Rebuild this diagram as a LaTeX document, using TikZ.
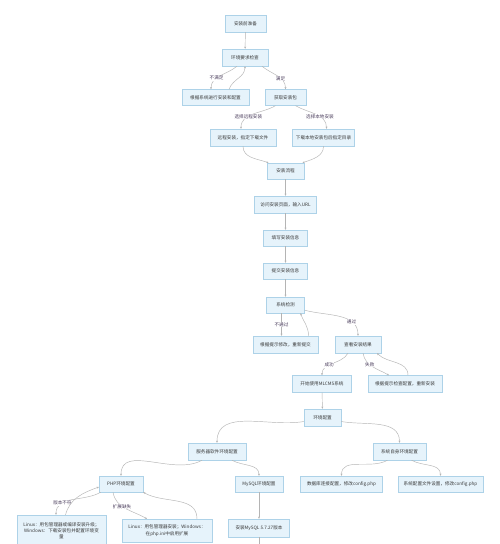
\documentclass[tikz,border=0pt]{standalone}
\usepackage{fontspec}
\setmainfont{Noto Sans CJK SC}
\usetikzlibrary{arrows.meta}
\definecolor{boxfill}{HTML}{E6F3FB}
\definecolor{boxline}{HTML}{ADD2E8}
\definecolor{txt}{HTML}{3A3A3A}
\definecolor{edge}{HTML}{B4B4B4}
\definecolor{labtxt}{HTML}{4A3D5C}
\begin{document}
\begin{tikzpicture}[x=1pt,y=1pt,
 box/.style={draw=boxline, fill=boxfill, line width=0.4pt, text=txt, font=\fontsize{4.6}{6.2}\selectfont, inner sep=1pt, align=center},
 conn/.style={draw=edge, line width=0.45pt, -{Stealth[length=2.2pt,width=1.9pt]}},
 lab/.style={fill=white, text=labtxt, font=\fontsize{4.6}{6}\selectfont, inner sep=0.6pt}]
\useasboundingbox (0,0) rectangle (500,-544);
\fill[white] (0,0) rectangle (500,-544);

\node[box, minimum width=41pt, minimum height=17pt] (a1) at (245.5,-23.5) {安装前准备};
\node[box, minimum width=46pt, minimum height=17pt] (a2) at (245,-57.5) {环境要求检查};
\node[box, minimum width=67pt, minimum height=16pt] (b1) at (215.5,-97.5) {根据系统进行安装和配置};
\node[box, minimum width=41pt, minimum height=16pt] (b2) at (285.5,-97.5) {获取安装包};
\node[box, minimum width=66pt, minimum height=17pt] (c1) at (243,-137.5) {远程安装，指定下载文件};
\node[box, minimum width=62pt, minimum height=17pt] (c2) at (323.5,-137.5) {下载本地安装包后指定目录};
\node[box, minimum width=37pt, minimum height=16pt] (d) at (285.5,-171) {安装流程};
\node[box, minimum width=62pt, minimum height=17pt] (e) at (285.5,-204.5) {访问安装页面，输入URL};
\node[box, minimum width=44pt, minimum height=16pt] (f) at (285.5,-238) {填写安装信息};
\node[box, minimum width=44pt, minimum height=16pt] (g) at (285.5,-271) {提交安装信息};
\node[box, minimum width=38pt, minimum height=16pt] (h) at (285.5,-305) {系统检测};
\node[box, minimum width=65pt, minimum height=17pt] (i1) at (285.5,-344.5) {根据提示修改，重新提交};
\node[box, minimum width=46pt, minimum height=17pt] (i2) at (358,-344.5) {查看安装结果};
\node[box, minimum width=59pt, minimum height=17pt] (j1) at (322,-384) {开始使用MLCMS系统};
\node[box, minimum width=74pt, minimum height=17pt] (j2) at (405,-384) {根据提示检查配置，重新安装};
\node[box, minimum width=37pt, minimum height=17pt] (k) at (322.5,-417.5) {环境配置};
\node[box, minimum width=58pt, minimum height=17pt] (l1) at (217,-451.5) {服务器软件环境配置};
\node[box, minimum width=53pt, minimum height=17pt] (l2) at (399.5,-451.5) {系统自身环境配置};
\node[box, minimum width=44pt, minimum height=16pt] (m1) at (121,-484) {PHP环境配置};
\node[box, minimum width=48pt, minimum height=16pt] (m2) at (259,-484) {MySQL环境配置};
\node[box, minimum width=82pt, minimum height=16pt] (m3) at (341.5,-484) {数据库连接配置，修改config.php};
\node[box, minimum width=85pt, minimum height=16pt] (m4) at (440.5,-484) {系统配置文件设置，修改config.php};
\node[box, minimum width=89pt, minimum height=31pt] (n1) at (61.5,-530.5) {Linux：用包管理器或编译安装升级；\\Windows：下载安装包并配置环境变\\量};
\node[box, minimum width=90pt, minimum height=23pt] (n2) at (167,-530.5) {Linux：用包管理器安装；Windows：\\在php.ini中启用扩展};
\node[box, minimum width=61pt, minimum height=18pt] (n3) at (259,-528) {安装MySQL 5.7.27版本};
\coordinate (n3end) at (259,-546);

\draw[conn] (a1) -- (a2);
\draw[conn] ([xshift=-8pt]a2.south) to[out=-140,in=90] node[lab, pos=0.62]{不满足} ([xshift=-4.5pt]b1.north);
\draw[conn] ([xshift=13.5pt]b1.north) to[out=70,in=-90] (a2.south);
\draw[conn] ([xshift=17pt]a2.south) to[out=-40,in=90] node[lab, pos=0.62]{满足} (b2.north);
\draw[conn] ([xshift=-10pt]b2.south) to[out=-150,in=90] node[lab, pos=0.62]{选择远程安装} ([xshift=-2pt]c1.north);
\draw[conn] ([xshift=10pt]b2.south) to[out=-30,in=90] node[lab, pos=0.62]{选择本地安装} ([xshift=3pt]c2.north);
\draw[conn] (c1.south) to[out=-90,in=160] ([xshift=-17pt]d.north);
\draw[conn] (c2.south) to[out=-90,in=20] ([xshift=17pt]d.north);
\draw[conn] (d) -- (e);
\draw[conn] (e) -- (f);
\draw[conn] (f) -- (g);
\draw[conn] (g) -- (h);
\draw[conn] ([xshift=-4pt]h.south) -- node[lab]{不通过} ([xshift=-4pt]i1.north);
\draw[conn] ([xshift=23pt]i1.north) to[out=90,in=-70] ([xshift=15pt]h.south);
\draw[conn] ([yshift=3pt]h.south east) to[out=-15,in=90] node[lab, pos=0.72]{通过} (i2.north);
\draw[conn] ([xshift=-10pt]i2.south) to[out=-120,in=90] node[lab, pos=0.6]{成功} (j1.north);
\draw[conn] ([xshift=5pt]i2.south) to[out=-80,in=150] node[lab, pos=0.4]{失败} ([xshift=-16pt]j2.north);
\draw[conn] ([xshift=3pt]j2.north) to[out=90,in=-45] ([xshift=19pt]i2.south);
\draw[conn] (j1) -- (k);
\draw[conn] ([yshift=-4pt]k.west) to[out=190,in=90] (l1.north);
\draw[conn] ([yshift=-4pt]k.east) to[out=-10,in=90] (l2.north);
\draw[conn] ([xshift=-15pt]l1.south) to[out=-150,in=90] (m1.north);
\draw[conn] ([xshift=15pt]l1.south) to[out=-30,in=90] (m2.north);
\draw[conn] ([xshift=-12pt]l2.south) to[out=-150,in=90] (m3.north);
\draw[conn] ([xshift=12pt]l2.south) to[out=-30,in=90] (m4.north);
\draw[conn] ([xshift=2pt]m1.south west) to[out=-150,in=90] node[lab, pos=0.7]{版本不符} ([xshift=-5.5pt]n1.north);
\draw[conn] ([xshift=4pt]n1.north) to[out=75,in=200] ([yshift=-3pt]m1.west);
\draw[conn] ([xshift=-8pt]m1.south) to[out=-80,in=150] node[lab, pos=0.4]{扩展缺失} ([xshift=-20pt]n2.north);
\draw[conn] ([xshift=30pt]n2.north) to[out=90,in=-30] (m1.south east);
\draw[conn] (m2) -- (n3);
\draw[draw=edge, line width=0.45pt] (n3.south) -- (n3end);
\end{tikzpicture}
\end{document}
